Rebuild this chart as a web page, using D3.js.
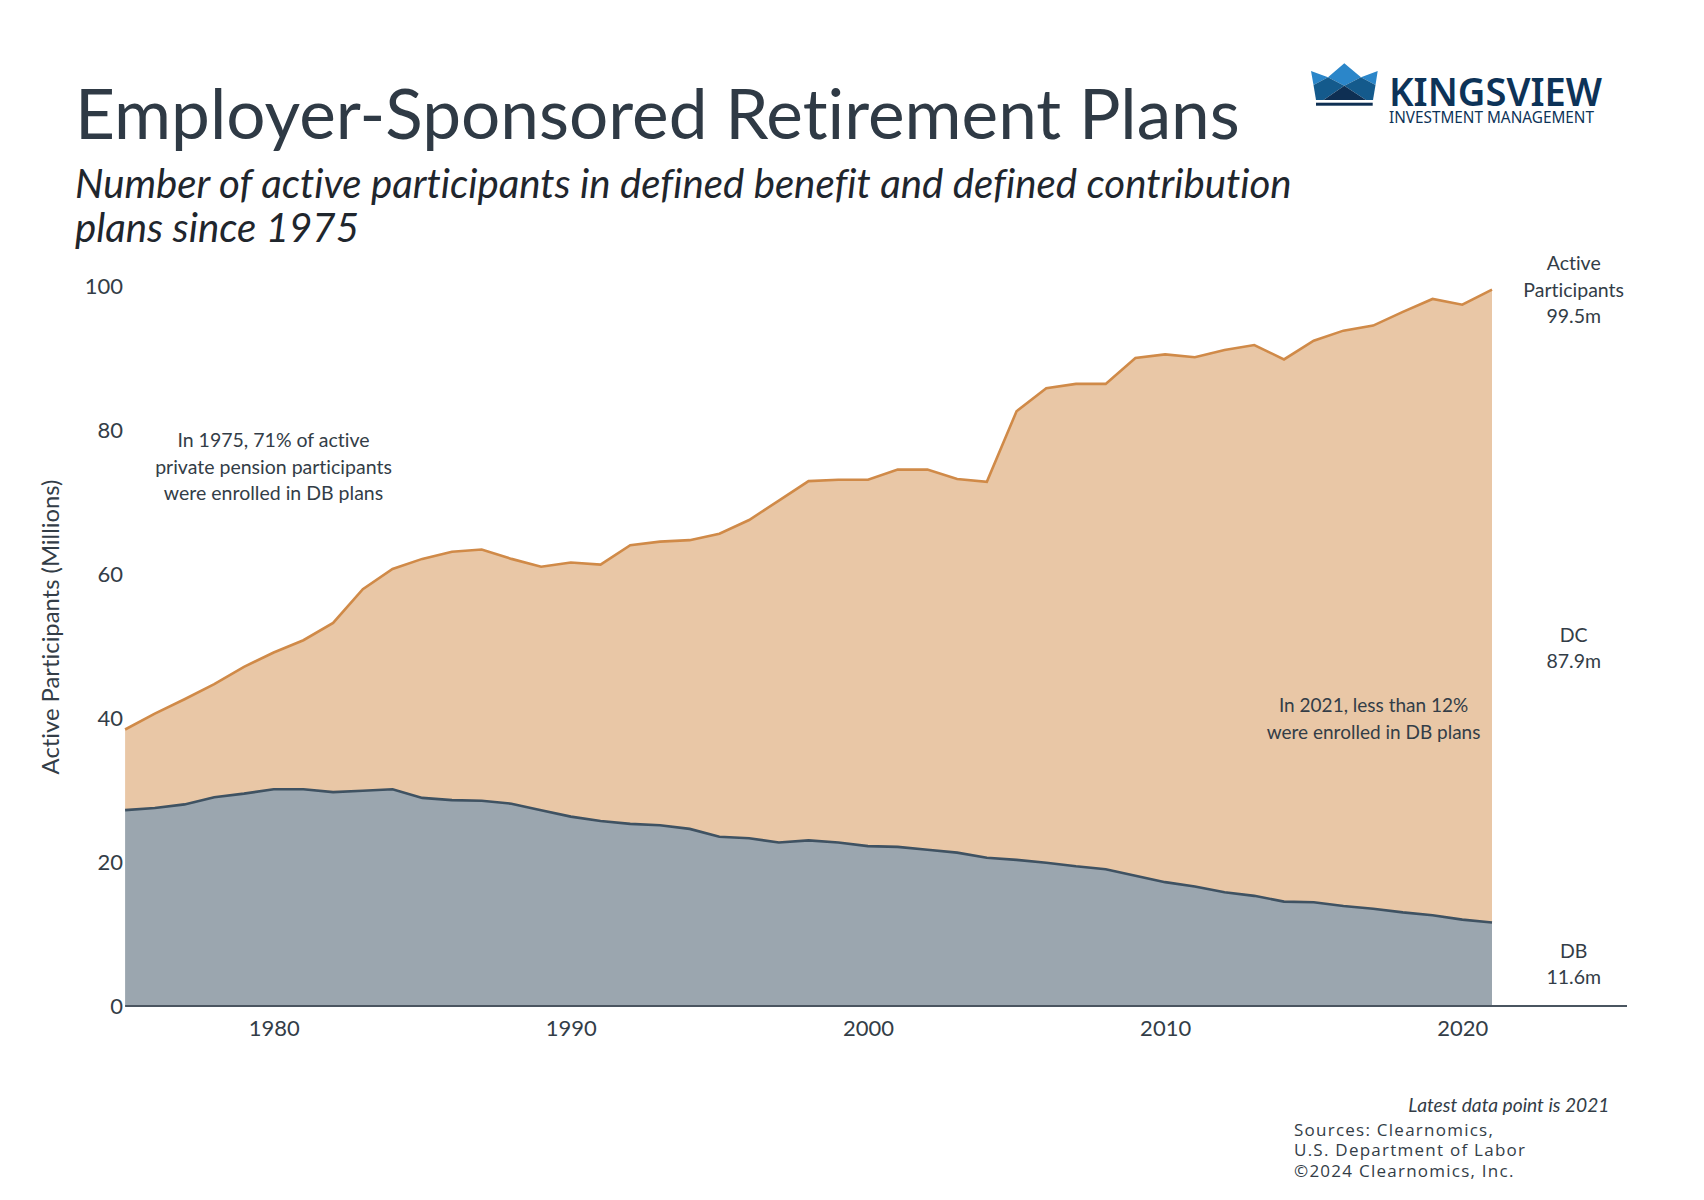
<!DOCTYPE html>
<html>
<head>
<meta charset="utf-8">
<title>Employer-Sponsored Retirement Plans</title>
<script src="https://cdn.jsdelivr.net/npm/d3@7"></script>
<style>
  html, body { margin: 0; padding: 0; background: #fff; }
  svg { display: block; }
  text { font-family: Lato, "Noto Sans", sans-serif; fill: #333d47; font-variant-ligatures: none; }
</style>
</head>
<body>
<div id="chart"></div>
<script>
const years = d3.range(1975, 2022);
const totalValues = [
  38.4, 40.6, 42.6, 44.7, 47.1, 49.1, 50.8, 53.2, 57.9, 60.7,
  62.1, 63.1, 63.4, 62.1, 61.0, 61.6, 61.3, 64.0, 64.5, 64.7,
  65.6, 67.5, 70.2, 72.9, 73.1, 73.1, 74.5, 74.5, 73.2, 72.8,
  82.6, 85.8, 86.4, 86.4, 90.0, 90.5, 90.1, 91.1, 91.8, 89.8,
  92.4, 93.8, 94.5, 96.4, 98.2, 97.4, 99.5
];
const dbValues = [
  27.2, 27.5, 28.0, 29.0, 29.5, 30.1, 30.1, 29.7, 29.9, 30.1,
  28.9, 28.6, 28.5, 28.1, 27.2, 26.3, 25.7, 25.3, 25.1, 24.6,
  23.5, 23.3, 22.7, 23.0, 22.7, 22.2, 22.1, 21.7, 21.3, 20.6,
  20.3, 19.9, 19.4, 19.0, 18.1, 17.2, 16.6, 15.8, 15.3, 14.5,
  14.4, 13.9, 13.5, 13.0, 12.6, 12.0, 11.6
];
const yTicks = [0, 20, 40, 60, 80, 100];
const xTicks = [1980, 1990, 2000, 2010, 2020];

const width = 1704;
const height = 1200;
const ink = '#333d47';

const svg = d3
  .select('#chart')
  .append('svg')
  .attr('width', width)
  .attr('height', height)
  .attr('xmlns', 'http://www.w3.org/2000/svg');

const x = d3.scaleLinear().domain([1975, 2021]).range([125.1, 1492]);
const y = d3.scaleLinear().domain([0, 100]).range([1006, 286]);

/* Areas
-----------------------------------------------------------------------------*/
const totalArea = d3.area().x((d, i) => x(years[i])).y0((d, i) => y(dbValues[i])).y1((d) => y(d));
const dbArea = d3.area().x((d, i) => x(years[i])).y0(y(0)).y1((d) => y(d));
const seriesLine = d3.line().x((d, i) => x(years[i])).y((d) => y(d));

svg.append('path').attr('d', totalArea(totalValues)).attr('fill', '#e9c7a6');
svg.append('path').attr('d', dbArea(dbValues)).attr('fill', '#9ba6af');
svg.append('path').attr('d', seriesLine(totalValues)).attr('fill', 'none').attr('stroke', '#d08a48').attr('stroke-width', 2.6);
svg.append('path').attr('d', seriesLine(dbValues)).attr('fill', 'none').attr('stroke', '#3f5262').attr('stroke-width', 2.6);

/* Axes
-----------------------------------------------------------------------------*/
const yAxis = svg
  .append('g')
  .attr('transform', `translate(${x(1975) - 1}, 0)`)
  .call(d3.axisLeft(y).tickValues(yTicks).tickSize(0).tickPadding(1));
yAxis.select('.domain').remove();

const xAxis = svg
  .append('g')
  .attr('transform', `translate(0, ${y(0)})`)
  .call(d3.axisBottom(x).tickValues(xTicks).tickFormat(d3.format('d')).tickSize(0).tickPadding(14));
xAxis.select('.domain').remove();

svg.selectAll('.tick text').style('font-size', '22px').style('fill', ink);

svg
  .append('line')
  .attr('x1', x(1975))
  .attr('x2', 1627)
  .attr('y1', y(0))
  .attr('y2', y(0))
  .attr('stroke', '#4a5560')
  .attr('stroke-width', 1.8);

/* Text
-----------------------------------------------------------------------------*/
function addLines(lines, posX, posY, lineHeight, size, anchor = 'middle', style = 'normal') {
  lines.forEach((line, i) => {
    svg
      .append('text')
      .attr('x', posX)
      .attr('y', posY + i * lineHeight)
      .attr('dy', '0.35em')
      .attr('text-anchor', anchor)
      .style('font-size', size + 'px')
      .style('font-style', style)
      .text(line);
  });
}

svg
  .append('text')
  .attr('x', 75)
  .attr('y', 139)
  .style('font-size', '69.3px')
  .style('fill', '#2f3a45')
  .text('Employer-Sponsored Retirement Plans');

addLines(
  ['Number of active participants in defined benefit and defined contribution', 'plans since 1975'],
  75, 184, 44, 40.2, 'start', 'italic'
);
svg.selectAll('text').filter(function () {
  return /Number of|plans since/.test(this.textContent);
}).style('fill', '#1f262d');

svg
  .append('text')
  .attr('transform', 'translate(51, 627) rotate(-90)')
  .attr('dy', '0.35em')
  .attr('text-anchor', 'middle')
  .style('font-size', '23.8px')
  .text('Active Participants (Millions)');

addLines(['In 1975, 71% of active', 'private pension participants', 'were enrolled in DB plans'], 273.5, 440.5, 26.5, 19.5);
addLines(['In 2021, less than 12%', 'were enrolled in DB plans'], 1373.6, 705.5, 27, 19);
addLines(['Active', 'Participants', '99.5m'], 1573.7, 263, 26.7, 19.5);
addLines(['DC', '87.9m'], 1573.7, 635, 26, 19.5);
addLines(['DB', '11.6m'], 1573.7, 951.5, 26, 19.5);

addLines(['Latest data point is 2021'], 1609.5, 1105, 0, 19.2, 'end', 'italic');
addLines(['Sources: Clearnomics,', 'U.S. Department of Labor', '\u00a92024 Clearnomics, Inc.'], 1294, 1130, 20.5, 17, 'start');
svg.selectAll('text').filter(function () {
  return /Sources|U\.S\.|Clearnomics, Inc/.test(this.textContent);
}).style('font-family', '"Open Sans", sans-serif').style('letter-spacing', '1.25px');

/* Logo
-----------------------------------------------------------------------------*/
const logo = svg.append('g').attr('class', 'logo');
const crown = [
  ['#2b86c9', '1311,71 1328,77.3 1344.3,63.3 1361,77.3 1377.7,71 1375.5,85 1361,77.3 1344.3,85.7 1328,77.3 1313.5,85'],
  ['#145a8c', '1313.5,85 1328,77.3 1344.3,85.7 1323.5,100 1316,100'],
  ['#145a8c', '1375.5,85 1361,77.3 1344.3,85.7 1366,100 1373,100'],
  ['#0e2f53', '1323.5,100 1344.3,85.7 1366,100']
];
crown.forEach(([color, points]) => {
  logo.append('polygon').attr('points', points).attr('fill', color);
});
logo.append('rect').attr('x', 1316).attr('y', 102.7).attr('width', 56.7).attr('height', 3).attr('fill', '#0e2f53');
logo
  .append('text')
  .attr('x', 1389)
  .attr('y', 105.7)
  .attr('textLength', 213)
  .attr('lengthAdjust', 'spacingAndGlyphs')
  .style('font-family', '"Noto Sans", sans-serif')
  .style('font-size', '39px')
  .style('font-weight', 600)
  .style('fill', '#0d3358')
  .text('KINGSVIEW');
logo
  .append('text')
  .attr('x', 1389)
  .attr('y', 123.3)
  .attr('textLength', 205)
  .attr('lengthAdjust', 'spacingAndGlyphs')
  .style('font-family', '"Noto Sans", sans-serif')
  .style('font-size', '17px')
  .style('fill', '#0d3358')
  .text('INVESTMENT MANAGEMENT');
</script>
</body>
</html>
